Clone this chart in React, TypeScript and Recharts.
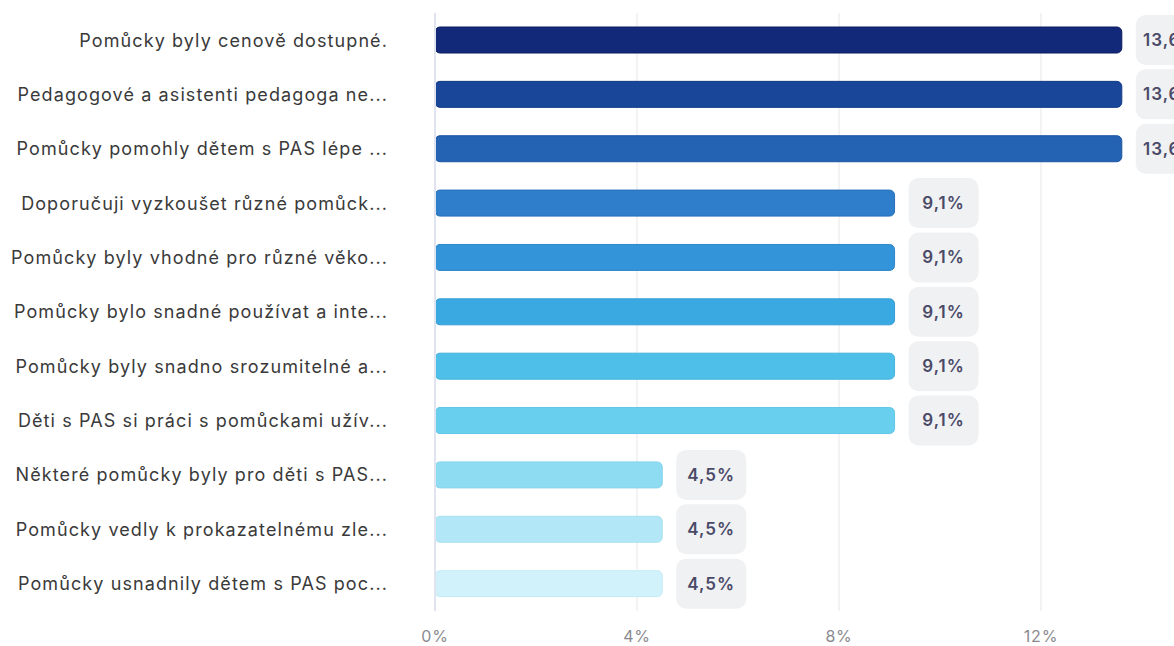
import { BarChart, Bar, XAxis, YAxis, CartesianGrid, Cell, LabelList } from "recharts";

const categories = [
  "Pomůcky byly cenově dostupné.",
  "Pedagogové a asistenti pedagoga ne...",
  "Pomůcky pomohly dětem s PAS lépe ...",
  "Doporučuji vyzkoušet různé pomůck...",
  "Pomůcky byly vhodné pro různé věko...",
  "Pomůcky bylo snadné používat a inte...",
  "Pomůcky byly snadno srozumitelné a...",
  "Děti s PAS si práci s pomůckami užív...",
  "Některé pomůcky byly pro děti s PAS...",
  "Pomůcky vedly k prokazatelnému zle...",
  "Pomůcky usnadnily dětem s PAS poc...",
];

const shares = [13.6, 13.6, 13.6, 9.1, 9.1, 9.1, 9.1, 9.1, 4.5, 4.5, 4.5];

const xTicks = [0, 4, 8, 12];

const barColors = [
  "#12297a",
  "#1a469a",
  "#2462b4",
  "#2e7ecb",
  "#3494d9",
  "#3aa9e2",
  "#4dbfe8",
  "#69cfee",
  "#8edcf2",
  "#b1e7f6",
  "#d1f2fa",
];

const barEdges = [
  "#0a1c5e",
  "#123a85",
  "#1b55a0",
  "#276fb8",
  "#2d86c9",
  "#339cd4",
  "#44b3dd",
  "#5fc5e6",
  "#86d4ec",
  "#a9e0f0",
  "#c6ecf6",
];

const data = categories.map((name, i) => ({ name, value: shares[i] }));

const fmt = (v: number) => v.toFixed(1).replace(".", ",") + "%";

function ValueBadge(props: any) {
  const { x, y, width, height, value } = props;
  const bx = x + width + 14;
  const cy = y + height / 2;
  return (
    <g>
      <rect x={bx} y={cy - 25} width={70} height={50} rx={10} fill="#f0f1f3" />
      <text
        x={bx + 35}
        y={cy}
        dy="0.35em"
        textAnchor="middle"
        fontSize={17}
        fontWeight={600}
        letterSpacing={1}
        fill="#4a4a68"
        fontFamily="Inter, sans-serif"
      >
        {fmt(value)}
      </text>
    </g>
  );
}

export default function App() {
  return (
    <div
      style={{
        position: "absolute",
        left: 0,
        top: 0,
        width: 1174,
        height: 646,
        overflow: "hidden",
        background: "#fff",
        fontFamily: "Inter, sans-serif",
      }}
    >
      <BarChart
        width={1300}
        height={646}
        data={data}
        layout="vertical"
        margin={{ top: 13, right: 57, bottom: 0, left: 0 }}
        barCategoryGap={0}
      >
        <CartesianGrid horizontal={false} stroke="#e6e7eb" />
        <XAxis
          type="number"
          domain={[0, 16]}
          ticks={xTicks}
          tickFormatter={(v) => `${v}%`}
          axisLine={false}
          tickLine={false}
          tickSize={0}
          tickMargin={20}
          height={35}
          tick={{ fontSize: 16, fill: "#8a8a8f", letterSpacing: 0.8 }}
        />
        <YAxis
          type="category"
          dataKey="name"
          width={435}
          axisLine={{ stroke: "#e0e4f0", strokeWidth: 2 }}
          tickLine={false}
          tickSize={0}
          tickMargin={47}
          interval={0}
          tick={{ fontSize: 18, fill: "#3a3a3a", letterSpacing: 1.1 }}
        />
        <Bar dataKey="value" barSize={26} radius={5} isAnimationActive={false}>
          {data.map((d, i) => (
            <Cell key={d.name + i} fill={barColors[i]} stroke={barEdges[i]} strokeWidth={1} />
          ))}
          <LabelList dataKey="value" content={<ValueBadge />} />
        </Bar>
      </BarChart>
    </div>
  );
}
